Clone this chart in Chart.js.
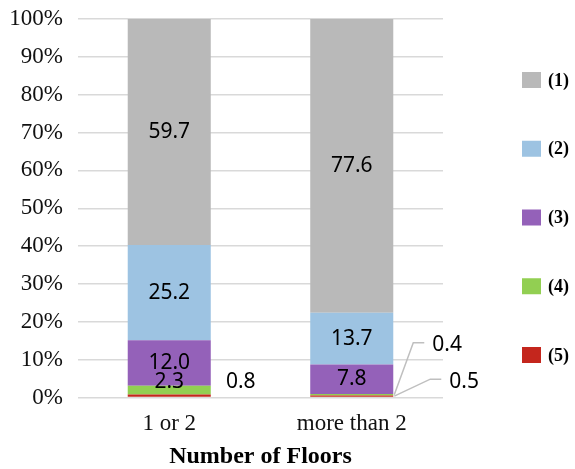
<!DOCTYPE html>
<html>
<head>
<meta charset="utf-8">
<script src="https://cdn.jsdelivr.net/npm/chart.js@4.4.1/dist/chart.umd.min.js"></script>
<style>
  html, body { margin: 0; padding: 0; background: #fff; }
  #wrap { width: 575px; height: 469px; position: relative; }
</style>
</head>
<body>
<div id="wrap"><canvas id="chart"></canvas></div>
<script>
// Share of buildings by number of floors (%)
const categories = ['1 or 2', 'more than 2'];
const seriesNames = ['(1)', '(2)', '(3)', '(4)', '(5)'];
const series1 = [59.7, 77.6];
const series2 = [25.2, 13.7];
const series3 = [12.0, 7.8];
const series4 = [2.3, 0.4];
const series5 = [0.8, 0.5];
const yTicks = ['0%', '10%', '20%', '30%', '40%', '50%', '60%', '70%', '80%', '90%', '100%'];
const xTitle = 'Number of Floors';

const colors = ['#b9b9b9', '#9dc3e2', '#9461b9', '#92cf52', '#c4261d'];

// stacking order: bottom first
const stackOrder = [
  { name: seriesNames[4], data: series5, color: colors[4] },
  { name: seriesNames[3], data: series4, color: colors[3] },
  { name: seriesNames[2], data: series3, color: colors[2] },
  { name: seriesNames[1], data: series2, color: colors[1] },
  { name: seriesNames[0], data: series1, color: colors[0] }
];

// label placement for the thin segments (key: "series|category")
const outsideLabels = {
  '(5)|0': { dx: 30, dy: -14 },
  '(4)|1': { leader: [[1, 0], [20, -52], [31, -52]], tx: 39, ty: -50 },
  '(5)|1': { leader: [[1, 0], [37, -17], [48, -17]], tx: 56, ty: -14 }
};

const labelFont = '21px "Noto Sans", sans-serif';

const labelPlugin = {
  id: 'segmentLabels',
  afterDatasetsDraw(chart) {
    const ctx = chart.ctx;
    ctx.save();
    ctx.font = labelFont;
    ctx.fillStyle = '#000';
    chart.data.datasets.forEach((ds, di) => {
      const meta = chart.getDatasetMeta(di);
      meta.data.forEach((bar, i) => {
        const v = ds.data[i];
        const text = v.toFixed(1);
        const key = ds.label + '|' + i;
        const right = bar.x + bar.width / 2;
        const midY = (bar.y + bar.base) / 2;
        const spec = outsideLabels[key];
        if (spec && spec.leader) {
          ctx.strokeStyle = '#bfbfbf';
          ctx.lineWidth = 1.5;
          ctx.beginPath();
          spec.leader.forEach((p, k) => {
            const px = right + p[0], py = midY + p[1];
            if (k === 0) ctx.moveTo(px, py); else ctx.lineTo(px, py);
          });
          ctx.stroke();
          ctx.textAlign = 'left';
          ctx.textBaseline = 'middle';
          ctx.fillText(text, right + spec.tx, midY + spec.ty);
        } else if (spec) {
          ctx.textAlign = 'center';
          ctx.textBaseline = 'middle';
          ctx.fillText(text, right + spec.dx, midY + spec.dy);
        } else {
          ctx.textAlign = 'center';
          ctx.textBaseline = 'middle';
          const y = Math.min(midY, bar.base - 12);
          ctx.fillText(text, bar.x, y);
        }
      });
    });
    ctx.restore();
  }
};

const legendPlugin = {
  id: 'sideLegend',
  afterDraw(chart) {
    const ctx = chart.ctx;
    ctx.save();
    const x0 = 522, y0 = 80, step = 68.75;
    seriesNames.forEach((name, k) => {
      const cy = y0 + k * step;
      ctx.fillStyle = colors[k];
      ctx.fillRect(x0, cy - 8, 19, 16);
      ctx.fillStyle = '#000';
      ctx.font = 'bold 18px "Liberation Serif", "Times New Roman", serif';
      ctx.textAlign = 'left';
      ctx.textBaseline = 'middle';
      ctx.fillText(name, 548, cy + 1);
    });
    ctx.restore();
  }
};

new Chart(document.getElementById('chart'), {
  type: 'bar',
  data: {
    labels: categories,
    datasets: stackOrder.map(s => ({
      label: s.name,
      data: s.data,
      backgroundColor: s.color,
      borderWidth: 0,
      barPercentage: 0.455,
      categoryPercentage: 1.0
    }))
  },
  options: {
    responsive: true,
    maintainAspectRatio: false,
    animation: false,
    layout: { padding: { left: 0, top: 19, right: 132, bottom: 0 } },
    plugins: {
      legend: { display: false },
      tooltip: { enabled: false }
    },
    scales: {
      x: {
        stacked: true,
        grid: { display: false },
        border: { display: false },
        ticks: {
          padding: 5,
          color: '#111',
          font: { family: '"Liberation Serif", "Times New Roman", serif', size: 23 }
        },
        title: {
          display: true,
          text: xTitle,
          color: '#000',
          padding: { top: 0, bottom: 0 },
          font: { family: '"Liberation Serif", "Times New Roman", serif', size: 24, weight: 'bold', lineHeight: 1.0 }
        },
        afterFit(scale) {
          scale.height = 71.5;
          scale.paddingLeft = 0;
          scale.paddingRight = 0;
        }
      },
      y: {
        stacked: true,
        min: 0,
        max: 100,
        border: { display: false },
        grid: { color: '#d9d9d9', lineWidth: 1.5, drawTicks: false },
        ticks: {
          stepSize: 10,
          padding: 15,
          color: '#111',
          font: { family: '"Liberation Serif", "Times New Roman", serif', size: 23 },
          callback: (v) => yTicks[Math.round(v / 10)]
        },
        afterFit(scale) {
          scale.width = 78;
          scale.paddingTop = 0;
          scale.paddingBottom = 0;
        }
      }
    }
  },
  plugins: [labelPlugin, legendPlugin]
});
</script>
</body>
</html>
